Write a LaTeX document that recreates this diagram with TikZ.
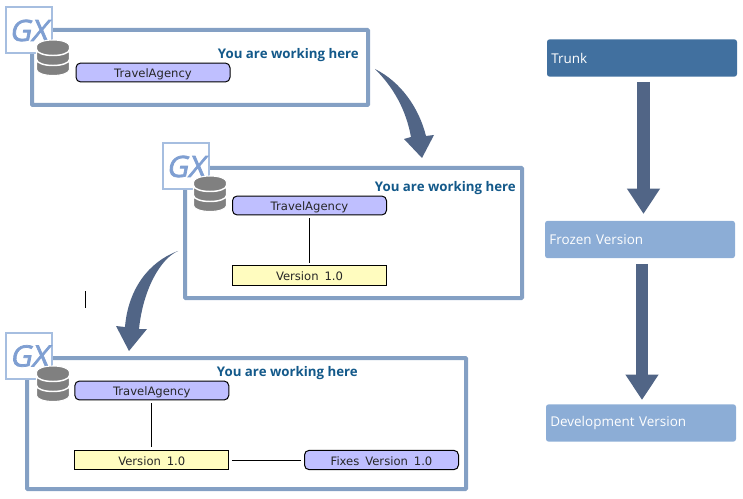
\documentclass[tikz,border=0pt]{standalone}
\usepackage{fontspec}
\setmainfont{Open Sans}
\newfontfamily\boxfont[WordSpace=1.6]{DejaVu Sans}
\newfontfamily\gxfont[FakeBold=2.5,FakeSlant=0.2]{Open Sans}
\usetikzlibrary{arrows.meta}
\definecolor{frameblue}{HTML}{84A0C4}
\definecolor{gxblue}{HTML}{7F9FD2}
\definecolor{gxedge}{HTML}{A6BEE0}
\definecolor{arrowblue}{HTML}{516586}
\definecolor{hereblue}{HTML}{13598A}
\definecolor{dbgray}{HTML}{808080}
\definecolor{trunkblue}{HTML}{41709F}
\definecolor{lightblue}{HTML}{8CADD6}
\tikzset{
  frame/.style={draw=frameblue,line width=3pt,fill=white,rounded corners=0.5pt},
  gxbox/.style={draw=gxedge,line width=1.5pt,fill=white,minimum width=34.5pt,minimum height=34.5pt,inner sep=0pt,
     font=\gxfont\fontsize{22}{22}\selectfont,text=gxblue},
  pill/.style={draw=black,line width=0.75pt,fill=blue!25!white,rounded corners=3.5pt,minimum width=115.5pt,minimum height=14.2pt,inner sep=0pt,text height=7.5pt,text depth=0pt,font=\boxfont\fontsize{8.7}{10}\selectfont,text=black!85},
  ver/.style={draw=black,line width=0.75pt,fill=yellow!25!white,minimum width=115.5pt,minimum height=14.5pt,inner sep=0pt,text height=7.5pt,text depth=0pt,font=\boxfont\fontsize{8.7}{10}\selectfont,text=black!85},
  here/.style={font=\fontsize{9.95}{11}\selectfont\bfseries,text=hereblue,inner sep=0pt},
  stage/.style={rounded corners=2pt,minimum width=142.5pt,minimum height=28pt,text=white,inner sep=0pt,font=\fontsize{10.1}{12}\selectfont,text width=136pt,align=left},
  link/.style={draw=black,line width=0.75pt},
  gapped/.style={link,shorten >=2pt,shorten <=2pt},
  bigarrow/.style={draw=arrowblue,line width=9.5pt,-{Triangle[length=19pt,width=23.5pt,fill=arrowblue]}},
  curved/.style={fill=arrowblue,draw=none},
  db/.pic={
    \fill[dbgray,draw=white,line width=0.8pt] (-16.5,-12) arc[start angle=180,end angle=360,x radius=16.5,y radius=6] -- (16.5,11.5) arc[start angle=0,end angle=180,x radius=16.5,y radius=6] -- cycle;
    \draw[white,line width=1.1pt] (-16.5,-8.5) arc[start angle=180,end angle=0,x radius=16.5,y radius=6];
    \draw[white,line width=1.1pt] (-16.5,1.5) arc[start angle=180,end angle=0,x radius=16.5,y radius=6];
  }
}
\begin{document}
\begin{tikzpicture}[x=0.75pt,y=-0.75pt]
\useasboundingbox (0,0) rectangle (743,499);
% frames
\draw[frame] (32,30) rectangle (368,105);
\draw[frame] (185,168) rectangle (522,298);
\draw[frame] (27,358) rectangle (466,489);
% GX logos
\node[gxbox] (gxa) at (28.5,30.5) {GX};
\node[gxbox] (gxb) at (185.5,166.5) {GX};
\node[gxbox] (gxc) at (29,356) {GX};
\pic at (53,58) {db};
\pic at (210,194) {db};
\pic at (53,384) {db};
% texts
\node[here,anchor=east] (herea) at (359,55) {You are working here};
\node[here,anchor=east] (hereb) at (516,188) {You are working here};
\node[here,anchor=east] (herec) at (358,373) {You are working here};
% first
\node[pill] (ta) at (153,72.5) {TravelAgency};
% second
\node[pill] (tb) at (309.5,205.5) {TravelAgency};
\node[ver] (vb) at (309.5,275.5) {Version 1.0};
\draw[gapped] (tb) -- (vb);
% third
\node[pill] (tc) at (151.8,390.5) {TravelAgency};
\node[ver] (vc) at (151.8,460) {Version 1.0};
\node[pill,minimum height=14.5pt] (fc) at (381.5,460) {Fixes Version 1.0};
\draw[gapped] (tc) -- (vc);
\draw[gapped] (vc) -- (fc);
% right column
\node[stage,fill=trunkblue] (trunk) at (642,58) {Trunk};
\node[stage,fill=lightblue] (frozen) at (640,239.5) {Frozen Version};
\node[stage,fill=lightblue] (dev) at (641,423) {Development Version};
\coordinate (t1) at (643.5,82);
\coordinate (f1) at (643.5,214);
\coordinate (f2) at (642,264);
\coordinate (d1) at (642,400);
\draw[bigarrow] (t1) -- (f1);
\draw[bigarrow] (f2) -- (d1);
% curved arrows
\fill[curved] (375,69) .. controls (401,82) and (419,108) .. (426,136) -- (434,135) -- (422,158) -- (404,139) -- (411,137) .. controls (406,110) and (394,88) .. cycle;
\fill[curved] (178,251) .. controls (160,259) and (143,290) .. (139,329) -- (147,329) -- (129,351) -- (116,326) -- (125,327) .. controls (128,290) and (148,262) .. cycle;
% small mark
\coordinate (m1) at (85.5,291);
\coordinate (m2) at (85.5,308);
\draw[link] (m1) -- (m2);
\end{tikzpicture}
\end{document}
